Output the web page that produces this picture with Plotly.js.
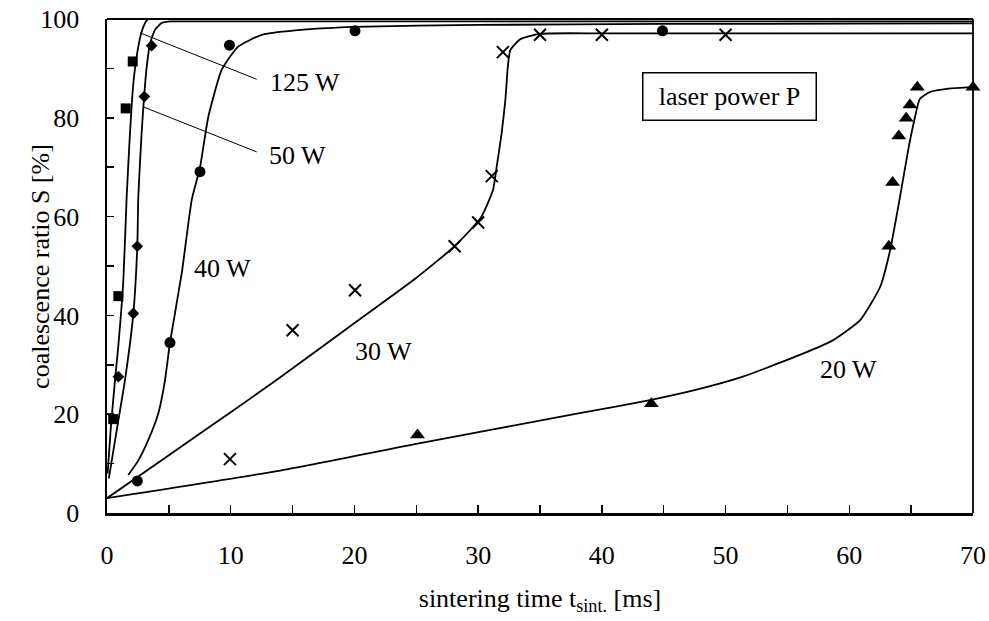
<!DOCTYPE html>
<html>
<head>
<meta charset="utf-8">
<script src="https://cdn.plot.ly/plotly-3.0.1.min.js"></script>
<style>html,body{margin:0;padding:0;background:#fff;}#chart{width:989px;height:621px;}</style>
</head>
<body>
<div id="chart"></div>
<script>
// ---- measured points (t in ms, S in %) ----
const t125 = [0.5, 0.92, 1.51, 2.08];
const s125 = [19.0, 43.9, 81.9, 91.4];
const t50 = [0.92, 2.13, 2.45, 3.02, 3.61];
const s50 = [27.6, 40.4, 54.0, 84.3, 94.6];
const t40 = [2.45, 5.09, 7.52, 9.9, 20.05, 44.9];
const s40 = [6.5, 34.5, 69.1, 94.7, 97.6, 97.6];
const t30 = [9.94, 15.0, 20.05, 28.1, 30.0, 31.1, 32.0, 35.0, 40.0, 50.0];
const s30 = [10.9, 37.0, 45.1, 54.0, 58.8, 68.2, 93.3, 96.8, 96.8, 96.8];
const t20 = [25.1, 44.0, 63.2, 63.5, 64.0, 64.6, 64.9, 65.5, 70.0];
const s20 = [15.8, 22.1, 54.0, 66.9, 76.3, 79.9, 82.6, 86.2, 86.2];

// ---- fitted curves ----
const c125t = [0.05, 0.3, 0.65, 0.92, 1.32, 1.59, 1.86, 2.13, 2.48, 2.8, 3.1, 3.4];
const c125s = [8, 17, 27, 34, 47, 64, 77, 87, 93.7, 97.4, 99.3, 100.2];
const c50t = [0.15, 0.8, 1.46, 2.13, 2.45, 2.53, 2.8, 3.0, 3.21, 3.48, 3.88, 4.42, 5.2, 10, 20, 40, 70];
const c50s = [7, 17, 27, 40.4, 54, 64, 77, 84.3, 90.3, 95.1, 97.8, 99.2, 99.5, 99.5, 99.5, 99.5, 99.5];
const c40t = [1.72, 2.5, 3.34, 4.15, 4.69, 5.09, 6.04, 6.85, 7.52, 8.19, 9.27, 10.6, 12.5, 15.2, 20, 30, 45, 60, 70];
const c40s = [7.7, 10.5, 14.8, 20.2, 26.9, 34.5, 48.5, 63.4, 70, 80.2, 89.7, 94.4, 96.8, 97.7, 98.4, 98.8, 99.0, 99.05, 99.1];
const c30t = [0, 5, 10, 13.7, 19.6, 24.8, 28.1, 30.2, 31.2, 31.5, 31.9, 32.2, 32.4, 32.6, 33.4, 35, 40, 50, 60, 70];
const c30s = [3, 11.7, 20.4, 26.9, 37.7, 47.2, 54, 59.7, 65.4, 70.1, 76.9, 83.6, 90.3, 93.7, 95.9, 97.0, 97.1, 97.1, 97.1, 97.1];
const c20t = [0, 14, 25, 38.2, 44, 47.4, 51.4, 56, 58.7, 60.9, 62.5, 63.3, 64.1, 64.8, 65.3, 65.7, 66.5, 68, 70];
const c20s = [3, 8.6, 14, 20.2, 22.9, 24.8, 27.6, 32, 35, 39.1, 45.8, 53.2, 64, 74, 80, 83.8, 85.2, 85.9, 86.2];

const FONT = 'Liberation Serif, Times New Roman, serif';
const lineStyle = {color: 'black', width: 1.8, shape: 'spline', smoothing: 0.5};

function curve(x, y) {
  return {x: x, y: y, mode: 'lines', line: lineStyle, hoverinfo: 'skip', showlegend: false};
}
function pts(x, y, sym, size) {
  const m = {color: 'black', size: size, symbol: sym};
  if (sym === 'x-thin-open') m.line = {color: 'black', width: 2};
  return {x: x, y: y, mode: 'markers', marker: m, showlegend: false, cliponaxis: false};
}

const data = [
  curve(c125t, c125s), curve(c50t, c50s), curve(c40t, c40s), curve(c30t, c30s), curve(c20t, c20s),
  pts(t125, s125, 'square', 10),
  pts(t50, s50, 'diamond', 9),
  pts(t40, s40, 'circle', 11),
  pts(t30, s30, 'x-thin-open', 12),
  pts(t20, s20, 'triangle-up', 13)
];

const labFont = {family: FONT, size: 26, color: 'black'};
function lab(x, y, text) {
  return {x: x, y: y, xref: 'x', yref: 'y', text: text, showarrow: false, xanchor: 'left', yanchor: 'middle', font: labFont};
}

const layout = {
  width: 989, height: 621,
  margin: {l: 107, r: 16, t: 19, b: 108},
  paper_bgcolor: 'white', plot_bgcolor: 'white',
  font: {family: FONT, size: 26, color: 'black'},
  showlegend: false,
  xaxis: {
    range: [0, 70], dtick: 10, tick0: 0,
    showgrid: false, zeroline: false,
    showline: true, linecolor: 'black', linewidth: 2.5,
    ticks: 'inside', ticklen: 8, tickwidth: 1.5, tickcolor: 'black',
    minor: {dtick: 5, ticks: 'inside', ticklen: 8, tickwidth: 1.5, tickcolor: 'black', showgrid: false},
    ticklabelstandoff: 17,
    tickfont: {family: FONT, size: 26, color: 'black'},
    title: {text: 'sintering time t<sub>sint.</sub> [ms]', font: {family: FONT, size: 26, color: 'black'}, standoff: 20},
    automargin: false, fixedrange: true
  },
  yaxis: {
    range: [0, 100], dtick: 20, tick0: 0,
    showgrid: false, zeroline: false,
    showline: true, linecolor: 'black', linewidth: 2.5,
    ticks: 'inside', ticklen: 7, tickwidth: 1.5, tickcolor: 'black',
    minor: {dtick: 10, ticks: 'inside', ticklen: 7, tickwidth: 1.5, tickcolor: 'black', showgrid: false},
    ticklabelstandoff: 20,
    tickfont: {family: FONT, size: 26, color: 'black'},
    automargin: false, fixedrange: true
  },
  shapes: [
    {type: 'line', xref: 'paper', yref: 'paper', x0: 0, x1: 1, y0: 1, y1: 1, line: {color: 'black', width: 1.8}},
    {type: 'line', xref: 'paper', yref: 'paper', x0: 1, x1: 1, y0: 0, y1: 1, line: {color: 'black', width: 1.8}},
    {type: 'line', xref: 'x', yref: 'y', x0: 2.67, y0: 97.2, x1: 12.1, y1: 87.8, line: {color: 'black', width: 1}},
    {type: 'line', xref: 'x', yref: 'y', x0: 2.94, y0: 82.2, x1: 12.1, y1: 73.1, line: {color: 'black', width: 1}}
  ],
  annotations: [
    lab(13.0, 87.1, '125 W'),
    lab(12.9, 72.3, '50 W'),
    lab(6.9, 49.4, '40 W'),
    lab(19.9, 32.6, '30 W'),
    lab(57.5, 29.1, '20 W'),
    {x: 50.3, y: 84.4, xref: 'x', yref: 'y', text: 'laser power P', showarrow: false,
     xanchor: 'center', yanchor: 'middle', font: labFont,
     bordercolor: 'black', borderwidth: 1.5, borderpad: 1, width: 170, height: 44, bgcolor: 'white'},
    {x: -0.0775, y: 0.5, xref: 'paper', yref: 'paper', text: 'coalescence ratio S [%]', textangle: -90,
     showarrow: false, xanchor: 'center', yanchor: 'middle', font: labFont}
  ]
};

Plotly.newPlot('chart', data, layout, {staticPlot: true, displayModeBar: false});
</script>
</body>
</html>
